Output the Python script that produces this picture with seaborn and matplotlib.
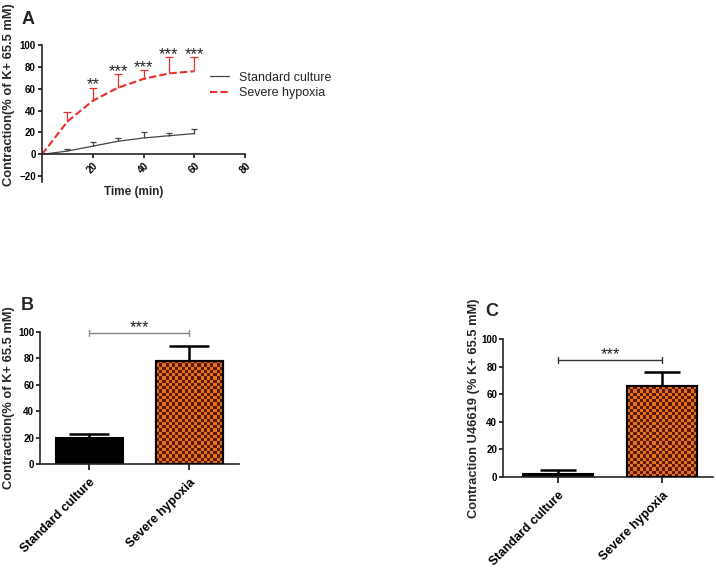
import numpy as np
import pandas as pd
import matplotlib
matplotlib.use("Agg")
import matplotlib.pyplot as plt
from matplotlib.patches import Rectangle
import seaborn as sns

# ---------------- data ----------------
time_min = [0, 10, 20, 30, 40, 50, 60]
std_mean = [0, 3, 7.5, 12, 15, 17, 19]
std_err = [0, 1.5, 3.5, 3, 5, 2.5, 4]
hyp_mean = [0, 30, 49, 61, 69, 74, 76]
hyp_err = [0, 8.5, 12, 12.5, 8, 15, 13]
star_times = [20, 30, 40, 50, 60]
star_labels = ["**", "***", "***", "***", "***"]

bar_cats = ["Standard culture", "Severe hypoxia"]
b_vals = [20, 78]
b_errs = [3, 11]
c_vals = [2.5, 66]
c_errs = [2.5, 10]
b_sig_y = 99
c_sig_y = 85

sns.set_theme(style="ticks")
plt.rcParams['font.family'] = ['Liberation Sans', 'DejaVu Sans']
plt.rcParams['axes.linewidth'] = 1.2

RED = "#e8302f"
GRAY = "#444444"
ORANGE = "#e2711d"
BROWN = "#5b1a06"

fig = plt.figure(figsize=(7.16, 5.69), dpi=100)

def style_ax(ax):
    for s in ["top", "right"]:
        ax.spines[s].set_visible(False)
    ax.tick_params(axis="both", direction="out", length=3, width=1.1,
                   labelsize=7, pad=1.5, colors="black")
    for lab in ax.get_yticklabels() + ax.get_xticklabels():
        lab.set_fontweight("bold")

# ---------------- panel A ----------------
axA = fig.add_axes([42/716, 1-181.7/569, 203/716, 136.7/569])
dfA = pd.DataFrame({"t": time_min, "std": std_mean, "hyp": hyp_mean})
sns.lineplot(data=dfA, x="t", y="std", ax=axA, color=GRAY, lw=0.9,
             label="Standard culture")
sns.lineplot(data=dfA, x="t", y="hyp", ax=axA, color=RED, lw=1.5,
             label="Severe hypoxia", dashes=False)
axA.lines[1].set_dashes((3.5, 1.5))
for t, m, e in zip(time_min[1:], std_mean[1:], std_err[1:]):
    axA.vlines(t, m, m + e, color=GRAY, lw=0.9)
    axA.plot([t], [m + e], marker="_", ms=5, mew=0.9, color=GRAY)
for t, m, e in zip(time_min[1:], hyp_mean[1:], hyp_err[1:]):
    axA.vlines(t, m, m + e, color=RED, lw=0.9)
    axA.plot([t], [m + e], marker="_", ms=5.5, mew=0.9, color=RED)
for t, lab in zip(star_times, star_labels):
    i = time_min.index(t)
    axA.annotate(lab, (t, hyp_mean[i] + hyp_err[i]), xytext=(0, -1.2),
                 textcoords="offset points", ha="center", va="baseline",
                 fontsize=12)
axA.set_xlim(0, 80)
axA.set_ylim(-25, 100)
axA.set_xticks([20, 40, 60, 80])
axA.set_yticks([-20, 0, 20, 40, 60, 80, 100])
axA.spines["bottom"].set_position(("data", 0))
axA.set_xlabel("Time (min)", fontsize=8.5, fontweight="bold")
axA.xaxis.set_label_coords(0.45, -0.03)
axA.set_ylabel("Contraction(% of K+ 65.5 mM)", fontsize=9.3, fontweight="bold")
axA.yaxis.set_label_coords(-0.135, 0.64)
style_ax(axA)
for lab in axA.get_xticklabels():
    lab.set_rotation(45)
axA.legend(loc="upper left", bbox_to_anchor=(0.805, 0.84), frameon=False,
           fontsize=9, handlelength=1.5, handletextpad=0.8, labelspacing=0.25,
           borderaxespad=0)
fig.text(28/716, 1-19/569, "A", fontsize=13, fontweight="bold",
         ha="center", va="center")

# ---------------- bar panels ----------------
def bar_panel(rect, vals, errs, sig_y, ylabel, cap_px, xlim, sig_color, lab_x):
    ax = fig.add_axes(rect)
    df = pd.DataFrame({"cat": bar_cats, "val": vals})
    sns.barplot(data=df, x="cat", y="val", hue="cat", palette=["black", ORANGE],
                legend=False, ax=ax, width=0.67, edgecolor="black",
                linewidth=1.5, errorbar=None)
    ax.set_xlim(*xlim)
    ax.set_ylim(0, 100)
    ax.set_yticks([0, 20, 40, 60, 80, 100])
    for i, (v, e) in enumerate(zip(vals, errs)):
        ax.vlines(i, v, v + e, color="black", lw=1.8, zorder=5)
        ax.plot([i], [v + e], marker="_", ms=cap_px * 0.72, mew=1.8,
                color="black", zorder=5)
    # significance bracket
    ax.plot([0, 1], [sig_y, sig_y], color=sig_color, lw=1.0, clip_on=False)
    for xx in [0, 1]:
        ax.plot([xx, xx], [sig_y - 2.5, sig_y + 2.5], color=sig_color, lw=1.0,
                clip_on=False)
    ax.annotate("***", (0.5, sig_y), xytext=(0, 0.6), textcoords="offset points",
                ha="center", va="baseline", fontsize=12, color="#222222",
                annotation_clip=False)
    ax.set_xlabel("")
    ax.set_ylabel(ylabel, fontsize=9.3, fontweight="bold")
    ax.yaxis.set_label_coords(lab_x, 0.5)
    style_ax(ax)
    ax.tick_params(axis="x", length=4, labelsize=9, pad=5)
    for lab in ax.get_xticklabels():
        lab.set_rotation(45)
        lab.set_ha("right")
        lab.set_rotation_mode("anchor")
        lab.set_fontweight("bold")
    # checkerboard texture for the hypoxia bar
    fig.canvas.draw()
    patch = [p for p in ax.patches if isinstance(p, Rectangle)][1]
    bb = patch.get_window_extent()
    nx = max(1, int(round(bb.width / 3.2)))
    ny = max(1, int(round(bb.height / 3.2)))
    grid = (np.add.outer(np.arange(ny), np.arange(nx)) % 2)
    cmap = matplotlib.colors.ListedColormap([ORANGE, BROWN])
    x0 = patch.get_x(); w = patch.get_width()
    y0 = patch.get_y(); h = patch.get_height()
    im = ax.imshow(grid, cmap=cmap, extent=(x0, x0 + w, y0, y0 + h),
                   interpolation="nearest", aspect="auto", zorder=2.5,
                   origin="lower")
    im.set_clip_path(patch)
    ax.add_patch(Rectangle((x0, y0), w, h, fill=False, edgecolor="black",
                           lw=1.5, zorder=3))
    ax.set_xlim(*xlim)
    ax.set_ylim(0, 100)
    return ax

axB = bar_panel([40.3/716, 1-464.3/569, 198.7/716, 132.6/569], b_vals, b_errs,
                b_sig_y, "Contraction(% of K+ 65.5 mM)", 40, (-0.487, 1.5),
                "#888888", -0.127)
fig.text(27/716, 1-305/569, "B", fontsize=13, fontweight="bold",
         ha="center", va="center")

axC = bar_panel([503.3/716, 1-477/569, 209.7/716, 137.7/569], c_vals, c_errs,
                c_sig_y, "Contraction U46619 (% K+ 65.5 mM)", 36, (-0.526, 1.49),
                "#333333", -0.111)
fig.text(492/716, 1-312/569, "C", fontsize=13, fontweight="bold",
         ha="center", va="center")

fig.savefig("out.png", dpi=100)
